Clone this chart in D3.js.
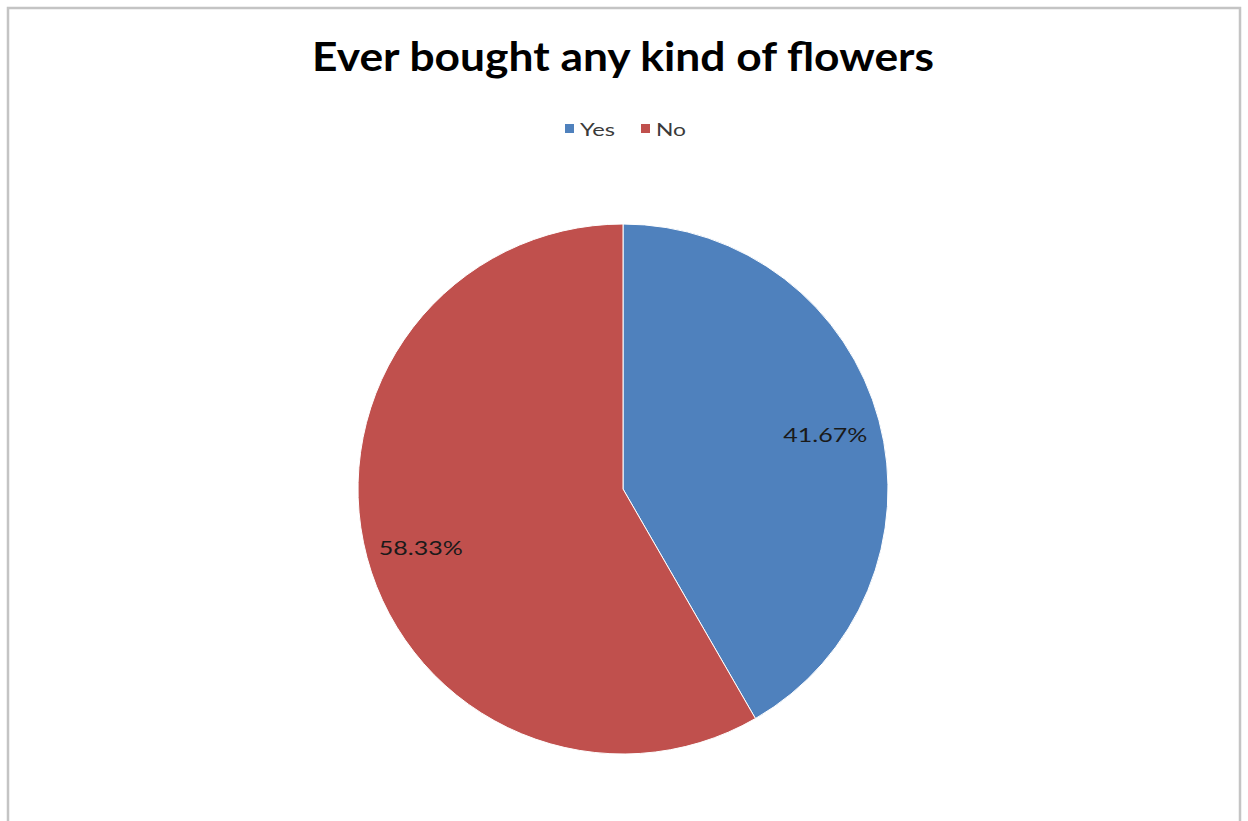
<!DOCTYPE html>
<meta charset="utf-8">
<style>
body { margin: 0; background: #fff; }
.frame { fill: none; stroke: #c4c4c4; stroke-width: 2.5; }
.title { font-family: Lato, "Open Sans", sans-serif; font-weight: bold; font-size: 40px; fill: #000; }
.legend text { font-family: Lato, "Open Sans", sans-serif; font-size: 18px; fill: #3a3a3a; }
.label { font-family: Lato, "Open Sans", sans-serif; font-size: 20px; fill: #1a1a1a; }
</style>
<div id="chart"></div>
<script src="https://d3js.org/d3.v7.min.js"></script>
<script>
var categories = ["Yes", "No"];
var values = [41.67, 58.33];
var colors = ["#4f81bd", "#c0504d"];

var width = 1248, height = 821;
var svg = d3.select("#chart").append("svg")
  .attr("width", width).attr("height", height);

// outer frame (bottom edge is cut off in the original)
svg.append("path").attr("class", "frame")
  .attr("d", "M8,830 L8,8 L1240,8 L1240,830");

// title is set wide, so stretch it to the measured width
svg.append("text").attr("class", "title")
  .attr("x", 312).attr("y", 71)
  .attr("textLength", 622)
  .attr("lengthAdjust", "spacingAndGlyphs")
  .text("Ever bought any kind of flowers");

// legend
var legend = svg.append("g").attr("class", "legend");
var lx = [565, 641];
var lw = [35, 30];
categories.forEach(function(c, i) {
  legend.append("rect")
    .attr("x", lx[i]).attr("y", 124)
    .attr("width", 9).attr("height", 9)
    .attr("fill", colors[i]);
  legend.append("text")
    .attr("x", lx[i] + 15).attr("y", 136)
    .attr("textLength", lw[i])
    .attr("lengthAdjust", "spacingAndGlyphs")
    .text(c);
});

var cx = 623, cy = 489, r = 265;
var pie = d3.pie().sort(null).value(function(d) { return d; });
var arc = d3.arc().innerRadius(0).outerRadius(r);
var labelArc = d3.arc().innerRadius(r * 0.79).outerRadius(r * 0.79);

var g = svg.append("g").attr("transform", "translate(" + cx + "," + cy + ")");
var arcs = pie(values);

g.selectAll("path.slice")
  .data(arcs)
  .enter().append("path")
  .attr("class", "slice")
  .attr("d", arc)
  .attr("fill", function(d, i) { return colors[i]; })
  .attr("stroke", "#fff")
  .attr("stroke-width", 1);

g.selectAll("text.label")
  .data(arcs)
  .enter().append("text")
  .attr("class", "label")
  .attr("x", function(d) { return labelArc.centroid(d)[0] - 42; })
  .attr("y", function(d, i) { return labelArc.centroid(d)[1] + (i ? 5 : 0); })
  .attr("dy", "0.35em")
  .attr("textLength", 84)
  .attr("lengthAdjust", "spacingAndGlyphs")
  .text(function(d) { return d.data.toFixed(2) + "%"; });
</script>
